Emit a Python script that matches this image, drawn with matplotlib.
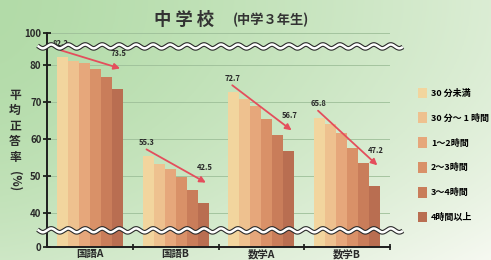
import numpy as np
import matplotlib.pyplot as plt
import matplotlib.transforms as mtransforms
from matplotlib.patches import Patch

plt.rcParams['font.family'] = ['Noto Sans CJK JP', 'DejaVu Sans']

subjects = ["国語A", "国語B", "数学A", "数学B"]
study_time = ["30 分未満", "30 分～ 1 時間", "1～2時間", "2～3時間", "3～4時間", "4時間以上"]
kokugo_a = [82.2, 81.2, 80.5, 79.0, 76.7, 73.5]
kokugo_b = [55.3, 53.3, 51.9, 49.6, 46.2, 42.5]
sugaku_a = [72.7, 70.9, 69.0, 65.4, 61.2, 56.7]
sugaku_b = [65.8, 64.1, 61.5, 57.6, 53.5, 47.2]
y_ticks = [0, 40, 50, 60, 70, 80, 100]

colors = ["#F2D59E", "#EEC18F", "#E6A77B", "#D99168", "#C97D5A", "#B96E51"]
arrow_color = "#E44E5C"
text_color = "#2A2A2A"

# broken axis: 0-35 and 85-100 squeezed
brk_v = [0, 35, 85, 100]
brk_p = [0, 15.6, 199.9, 213.5]


def fwd(v):
    return np.interp(v, brk_v, brk_p)


def inv(p):
    return np.interp(p, brk_p, brk_v)


fig = plt.figure(figsize=(4.91, 2.60), dpi=100)

bg = fig.add_axes([0, 0, 1, 1], zorder=-1)
xx, yy = np.meshgrid(np.linspace(0, 1, 200), np.linspace(0, 1, 120))
t = np.clip(0.6 * xx ** 1.3 + 0.4 * yy ** 2, 0, 1)[..., None]
c0 = np.array([0.70, 0.86, 0.66])
c1 = np.array([0.965, 0.975, 0.945])
bg.imshow(c0 * (1 - t) + c1 * t, aspect="auto", extent=(0, 1, 0, 1), origin="upper")
bg.axis("off")

ax = fig.add_axes([47 / 491, 13.3 / 260, 343 / 491, 213.4 / 260])
ax.set_facecolor("none")
ax.set_yscale("function", functions=(fwd, inv))
ax.set_ylim(0, 100)
ax.set_xlim(0, 4)

groups = [kokugo_a, kokugo_b, sugaku_a, sugaku_b]
w = 0.128
for g, vals in enumerate(groups):
    xs = [g + 0.5 + (i - 2.5) * w for i in range(len(vals))]
    for i, v in enumerate(vals):
        ax.bar(xs[i], v, width=w, color=colors[i], linewidth=0, zorder=2)

    start = mtransforms.offset_copy(ax.transData, fig, x=-1.2, y=5, units="points")
    end = mtransforms.offset_copy(ax.transData, fig, x=2, y=15, units="points")
    ax.annotate("", xy=(xs[-1], vals[-1]), xycoords=end,
                xytext=(xs[0], vals[0]), textcoords=start,
                arrowprops=dict(arrowstyle="-|>", color=arrow_color, lw=1.3,
                                mutation_scale=9, shrinkA=0, shrinkB=0),
                zorder=6)
    ax.annotate(f"{vals[0]:.1f}", xy=(xs[0], vals[0]), xytext=(-1, 10),
                textcoords="offset points", ha="center", va="center",
                fontsize=5.5, fontweight="bold", color=text_color, zorder=7)
    ax.annotate(f"{vals[-1]:.1f}", xy=(xs[-1], vals[-1]), xytext=(1, 26),
                textcoords="offset points", ha="center", va="center",
                fontsize=5.5, fontweight="bold", color=text_color, zorder=7)

# grid and axes
ax.set_yticks(y_ticks)
ax.set_yticklabels([str(v) for v in y_ticks], fontsize=7, fontweight="bold", color=text_color)
ax.yaxis.grid(True, color="#9DBE98", linewidth=0.6, zorder=1)
ax.set_axisbelow(True)
ax.tick_params(axis="y", direction="inout", length=6, width=1.1, pad=1)
ax.set_xticks([1, 2, 3, 4])
ax.set_xticklabels([])
ax.tick_params(axis="x", which="major", direction="inout", length=5, width=1.1)
ax.set_xticks([0.5, 1.5, 2.5, 3.5], minor=True)
ax.set_xticklabels(subjects, minor=True, fontsize=7.5, fontweight="bold", color=text_color)
ax.tick_params(axis="x", which="minor", length=0, pad=1.5)
for s in ["top", "right"]:
    ax.spines[s].set_visible(False)
for s in ["left", "bottom"]:
    ax.spines[s].set_linewidth(1.4)
    ax.spines[s].set_color("#1E1E1E")

# wavy break marks
blend = mtransforms.blended_transform_factory(ax.transData, ax.transAxes)
wx = np.linspace(-0.11, 4.15, 500)
for v in [85.5, 35.2]:
    y0 = ax.transAxes.inverted().transform(ax.transData.transform((0, v)))[1]
    wy = y0 + 0.009 * np.sin(2 * np.pi * wx / 0.198)
    ax.plot(wx, wy, transform=blend, color="#2A2A2A", lw=3.4, clip_on=False, zorder=8,
            solid_capstyle="butt")
    ax.plot(wx, wy, transform=blend, color="white", lw=1.8, clip_on=False, zorder=9,
            solid_capstyle="butt")

# title
fig.text(184.5 / 491, 1 - 20 / 260, "中 学 校", fontsize=12.5, fontweight="bold",
         color="#333333", ha="center", va="center")
fig.text(271 / 491, 1 - 20 / 260, "(中学３年生)", fontsize=9.5, fontweight="bold",
         color="#333333", ha="center", va="center")

# y label, stacked characters
fig.text(15 / 491, 1 - 126 / 260, "\n".join("平均正答率"), fontsize=8.5, fontweight="bold",
         color=text_color, ha="center", va="center", linespacing=1.25)
fig.text(15 / 491, 1 - 181 / 260, "(%)", fontsize=8.5, fontweight="bold",
         color=text_color, ha="center", va="center", rotation=270)

handles = [Patch(facecolor=c, edgecolor="none") for c in colors]
fig.legend(handles, study_time, loc="upper left", bbox_to_anchor=(414 / 491, 1 - 84 / 260),
           frameon=False, prop={"size": 6.5, "weight": "bold"}, handlelength=1.0,
           handleheight=1.4, handletextpad=0.5, labelspacing=1.6, borderaxespad=0)

fig.savefig("out.png", dpi=100)
